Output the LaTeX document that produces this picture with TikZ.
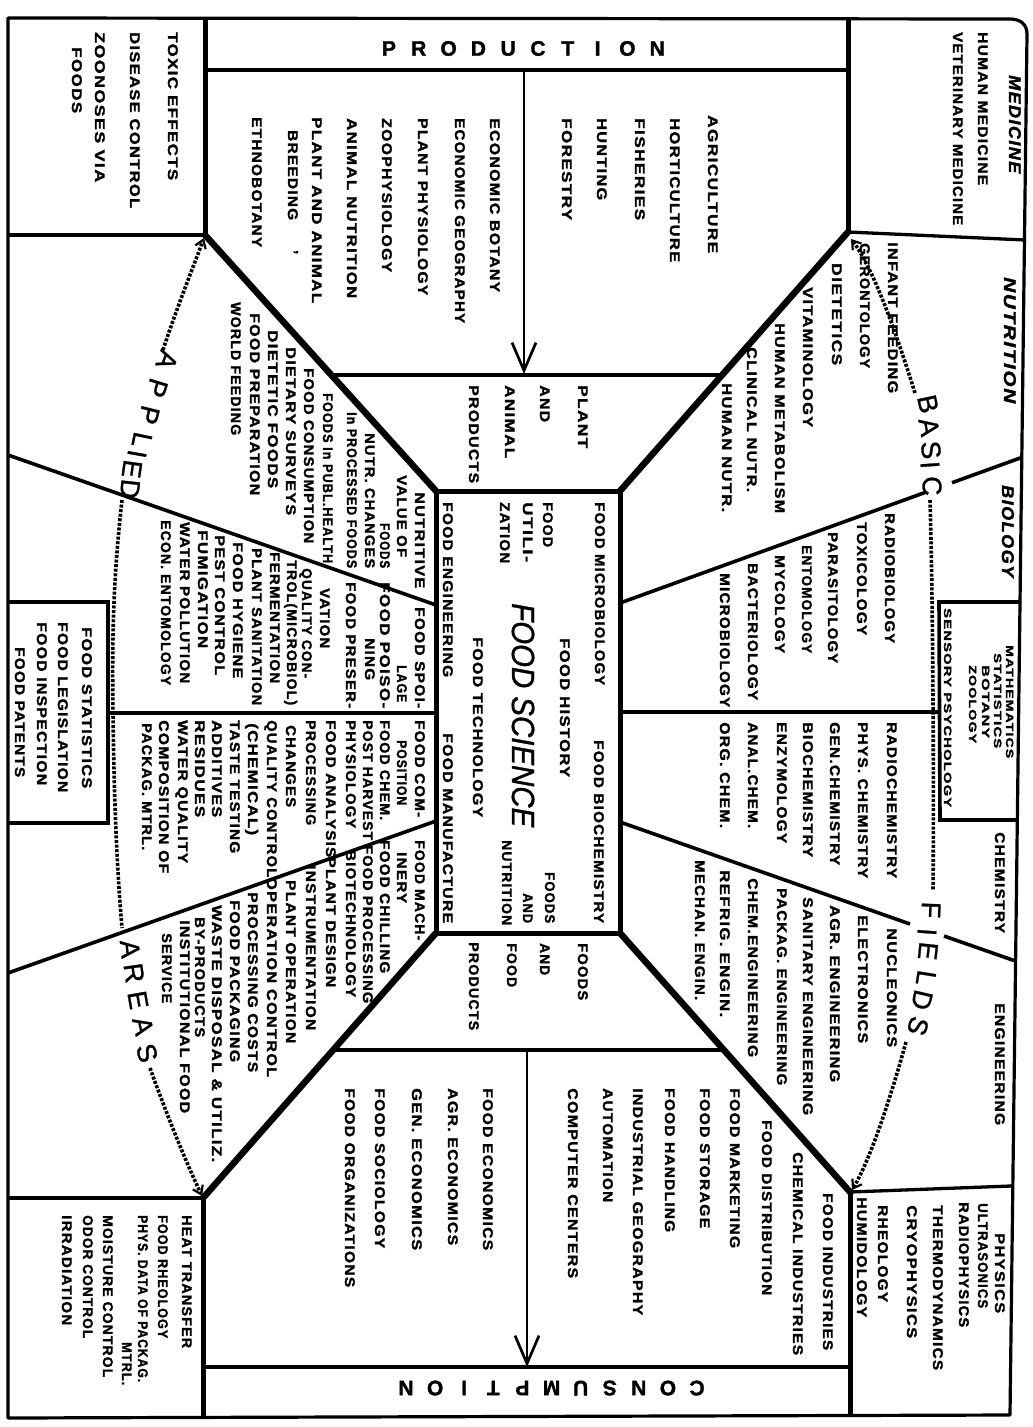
\documentclass[tikz,border=0pt]{standalone}
\usepackage{fontspec}
\usepackage{graphicx}
\usetikzlibrary{arrows.meta}
\newfontfamily\lf{Liberation Sans}[LetterSpace=8, BoldFeatures={FakeBold=1.6}, BoldItalicFeatures={FakeBold=1.8}]
\newfontfamily\hf{Liberation Sans}[FakeBold=1.0]
\newfontfamily\pf{Liberation Sans}[BoldFeatures={FakeBold=1.5}]
\newfontfamily\scfont{Liberation Sans}[ItalicFeatures={FakeBold=1.2}]
\newcounter{tlc}
\newcommand\TL[5][]{\stepcounter{tlc}%
  \node[lbl,#1] (t\arabic{tlc}) at (#2,#3) {\resizebox{\fpeval{#4-(#3)}pt}{\height}{#5}};}
\begin{document}
\begin{tikzpicture}[x=1pt,y=-1pt,
  lbl/.style={rotate=-90, anchor=base west, inner sep=0pt, font=\lf\bfseries\fontsize{14}{16}\selectfont},
  sm/.style={font=\lf\bfseries\fontsize{10.5}{12}\selectfont},
  hd/.style={font=\lf\bfseries\itshape\fontsize{17}{19}\selectfont},
  hdr/.style={font=\lf\bfseries\fontsize{14}{16}\selectfont},
  big/.style={font=\scfont\itshape\fontsize{32}{34}\selectfont},
  arcl/.style={inner sep=0pt, font=\hf\fontsize{27}{27}\selectfont},
  prod/.style={inner sep=0pt, font=\pf\bfseries\fontsize{21}{21}\selectfont},
  frame/.style={line width=3.2pt, line join=round},
  band/.style={line width=3.3pt},
  vthick/.style={line width=5pt},
  diag/.style={line width=6.5pt, line cap=round},
  cbox/.style={line width=5pt},
  mid/.style={line width=3.6pt},
  dots/.style={line width=3.6pt, dash pattern=on 3pt off 1.6pt},
  arr/.style={line width=2.7pt, -{Straight Barb[length=28pt,width=24pt]}},
  darr/.style={-{Straight Barb[length=8pt,width=11pt,line width=2.2pt]}}
]
\useasboundingbox (0,0) rectangle (1033,1427);
\fill[white] (0,0) rectangle (1033,1427);

% outer frame
\draw[frame] (8,18) -- (1010,19) .. controls (1020,19) and (1027,24) .. (1027,34) -- (1010,1415) -- (8,1418) -- cycle;

% production / consumption bands and corner boxes
\draw[band] (205,70) -- (848,70);
\draw[vthick] (205,18) -- (205,235);
\draw[band] (8,235) -- (205,235);
\draw[vthick] (848,18) -- (848,232);
\draw[band] (848,232) -- (1025,240);
\draw[vthick] (203,1198) -- (203,1418);
\draw[band] (8,1198) -- (203,1198);
\draw[vthick] (850,1192) -- (850,1415);
\draw[band] (850,1192) -- (1011,1186);
\draw[band] (203,1367) -- (850,1367);

% trapezoid lines
\draw[band] (331,375) -- (722,375);
\draw[band] (333,1050) -- (724,1050);

% diagonals
\draw[diag] (205,235) -- (436,491);
\draw[diag] (848,232) -- (620,491);
\draw[diag] (436,933) -- (203,1198);
\draw[diag] (620,933) -- (850,1192);

% center box
\draw[cbox] (436,491) rectangle (620,933);

% left partition lines
\draw[mid] (8,455) -- (436,605);
\draw[mid] (8,973) -- (436,821);
\draw[mid] (108,713) -- (436,713);
\draw[mid] (8,602) -- (108,602) -- (108,823) -- (8,823);

% right partition lines
\draw[mid] (620,603) -- (925,492.5);
\draw[mid] (952,482.7) -- (1021,457.7);
\draw[mid] (620,822) -- (910,924);
\draw[mid] (944,936) -- (1014,960.5);
\draw[mid] (620,712) -- (939,712);
\draw[mid] (1021,602) -- (939,602) -- (940,820) -- (1017,820);

% production / consumption arrows
\coordinate (pa) at (524,70);
\coordinate (pb) at (524,374);
\coordinate (ca) at (527,1050);
\coordinate (cb) at (527,1367);
\draw[arr] (pa) -- (pb);
\draw[arr] (ca) -- (cb);

% dotted arcs
\draw[dots,darr] (163,350) .. controls (176,310) and (192,270) .. (204,238);
\draw[dots] (122,500) .. controls (113,580) and (112,640) .. (113,713) .. controls (114,800) and (117,870) .. (122,928);
\draw[dots,darr] (150,1068) .. controls (165,1110) and (185,1160) .. (202,1196);
\draw[dots,darr] (915,393) .. controls (900,345) and (875,270) .. (851,239);
\draw[dots] (930,500) .. controls (933,600) and (934,800) .. (933,890);
\draw[dots,darr] (906,1042) .. controls (890,1100) and (870,1160) .. (852,1190);

% arc words
\node[arcl,rotate=-78] (b1) at (928,404) {B};
\node[arcl,rotate=-80] (b2) at (929,427) {A};
\node[arcl,rotate=-84] (b3) at (931,450) {S};
\node[arcl,rotate=-86] (b4) at (930,465) {I};
\node[arcl,rotate=-88] (b5) at (932,486) {C};
\node[arcl,rotate=-92] (f1) at (931,910) {F};
\node[arcl,rotate=-94] (f2) at (927,932) {I};
\node[arcl,rotate=-96] (f3) at (928,951) {E};
\node[arcl,rotate=-99] (f4) at (926,978) {L};
\node[arcl,rotate=-103] (f5) at (922,1000) {D};
\node[arcl,rotate=-108] (f6) at (918,1026) {S};
\node[arcl,rotate=-110] (a1) at (167,360) {A};
\node[arcl,rotate=-107] (a2) at (157,388) {P};
\node[arcl,rotate=-104] (a3) at (149,415) {P};
\node[arcl,rotate=-102] (a4) at (142,440) {L};
\node[arcl,rotate=-100] (a5) at (137,454) {I};
\node[arcl,rotate=-98] (a6) at (132,469) {E};
\node[arcl,rotate=-96] (a7) at (130,489) {D};
\node[arcl,rotate=-84] (r1) at (130,949) {A};
\node[arcl,rotate=-82] (r2) at (134,973) {R};
\node[arcl,rotate=-80] (r3) at (138,1000) {E};
\node[arcl,rotate=-77] (r4) at (143,1026) {A};
\node[arcl,rotate=-74] (r5) at (147,1053) {S};

% PRODUCTION / CONSUMPTION
\foreach \c [count=\i] in {P,R,O,D,U,C,T,I,O,N}
  \node[prod] (p\i) at ({389+(\i-1)*29.8},48.5) {\c};
\foreach \c [count=\i] in {N,O,I,T,P,M,U,S,N,O,C}
  \node[prod,rotate=180] (c\i) at ({406+(\i-1)*29.1},1388) {\c};

% top-left box
\TL{168}{32}{180}{TOXIC EFFECTS}
\TL{130}{32}{208}{DISEASE CONTROL}
\TL{95}{32}{182}{ZOONOSES VIA}
\TL{72}{47}{113}{FOODS}

% production area
\TL{490}{118}{292}{ECONOMIC BOTANY}
\TL{455}{118}{323}{ECONOMIC GEOGRAPHY}
\TL{418}{118}{295}{PLANT PHYSIOLOGY}
\TL{382}{118}{272}{ZOOPHYSIOLOGY}
\TL{347}{118}{298}{ANIMAL NUTRITION}
\TL{312}{117}{303}{PLANT AND ANIMAL}
\TL{288}{130}{220}{BREEDING}
\TL{296}{250}{254}{,}
\TL{252}{117}{247}{ETHNOBOTANY}
\TL{562}{118}{220}{FORESTRY}
\TL{597}{118}{200}{HUNTING}
\TL{635}{118}{220}{FISHERIES}
\TL{670}{118}{262}{HORTICULTURE}
\TL{708}{115}{253}{AGRICULTURE}

\TL{578}{385}{448}{PLANT}
\TL{540}{385}{422}{AND}
\TL{505}{385}{458}{ANIMAL}
\TL{469}{385}{483}{PRODUCTS}

% applied cell 1
\TL{415}{492}{588}{NUTRITIVE}
\TL{397}{475}{557}{VALUE OF}
\TL{380}{523}{568}{FOODS}
\TL{365}{433}{568}{NUTR. CHANGES}
\TL{347}{412}{568}{In PROCESSED FOODS}
\TL{323}{393}{563}{FOODS In PUBL.HEALTH}
\TL{304}{368}{543}{FOOD CONSUMPTION}
\TL{286}{347}{515}{DIETARY SURVEYS}
\TL{268}{330}{488}{DIETETIC FOODS}
\TL{250}{313}{495}{FOOD PREPARATION}
\TL{231}{302}{435}{WORLD FEEDING}

% applied cell 2
\TL{415}{607}{708}{FOOD SPOI-}
\TL{397}{665}{702}{LAGE}
\TL{380}{582}{708}{FOOD POISO-}
\TL{365}{638}{680}{NING}
\TL{346}{582}{708}{FOOD PRESER-}
\TL{320}{588}{648}{VATION}
\TL{302}{568}{678}{QUALITY CON-}
\TL{287}{560}{705}{TROL(MICROBIOL)}
\TL{270}{552}{683}{FERMENTATION}
\TL{252}{548}{705}{PLANT SANITATION}
\TL{233}{542}{678}{FOOD HYGIENE}
\TL{215}{535}{675}{PEST CONTROL}
\TL{198}{530}{648}{FUMIGATION}
\TL{180}{522}{683}{WATER POLLUTION}
\TL{161}{520}{685}{ECON. ENTOMOLOGY}

% applied cell 3
\TL{415}{720}{817}{FOOD COM-}
\TL{397}{740}{805}{POSITION}
\TL{380}{720}{820}{FOOD CHEM.}
\TL{363}{720}{840}{POST HARVEST}
\TL{346}{720}{828}{PHYSIOLOGY}
\TL{326}{720}{857}{FOOD ANALYSIS}
\TL{306}{720}{825}{PROCESSING}
\TL{286}{725}{807}{CHANGES}
\TL{267}{720}{877}{QUALITY CONTROL}
\TL{248}{723}{835}{(CHEMICAL)}
\TL{230}{720}{853}{TASTE TESTING}
\TL{212}{720}{817}{ADDITIVES}
\TL{195}{720}{817}{RESIDUES}
\TL{178}{720}{863}{WATER QUALITY}
\TL{159}{720}{873}{COMPOSITION OF}
\TL{142}{723}{850}{PACKAG. MTRL.}

% applied cell 4
\TL{415}{840}{940}{FOOD MACH-}
\TL{397}{852}{903}{INERY}
\TL{380}{840}{973}{FOOD CHILLING}
\TL{363}{845}{1003}{FOOD PROCESSING}
\TL{346}{850}{997}{BIOTECHNOLOGY}
\TL{326}{857}{987}{PLANT DESIGN}
\TL{306}{865}{1030}{INSTRUMENTATION}
\TL{286}{880}{1043}{PLANT OPERATION}
\TL{267}{877}{1077}{OPERATION CONTROL}
\TL{248}{892}{1072}{PROCESSING COSTS}
\TL{230}{900}{1062}{FOOD PACKAGING}
\TL{212}{905}{1162}{WASTE DISPOSAL \& UTILIZ.}
\TL{195}{917}{1037}{BY-PRODUCTS}
\TL{180}{920}{1113}{INSTITUTIONAL FOOD}
\TL{162}{933}{1003}{SERVICE}

% food statistics box
\TL{82}{627}{788}{FOOD STATISTICS}
\TL{58}{622}{792}{FOOD LEGISLATION}
\TL{37}{622}{785}{FOOD INSPECTION}
\TL{15}{647}{777}{FOOD PATENTS}

% center box
\TL{595}{502}{685}{FOOD MICROBIOLOGY}
\TL{543}{502}{547}{FOOD}
\TL{523}{502}{562}{UTILI-}
\TL{500}{502}{563}{ZATION}
\TL{443}{502}{677}{FOOD ENGINEERING}
\TL{560}{638}{777}{FOOD HISTORY}
\TL[big]{512}{603}{827}{FOOD SCIENCE}
\TL{473}{637}{817}{FOOD TECHNOLOGY}
\TL{594}{740}{923}{FOOD BIOCHEMISTRY}
\TL{545}{872}{923}{FOODS}
\TL{523}{893}{923}{AND}
\TL{502}{840}{925}{NUTRITION}
\TL{443}{733}{923}{FOOD MANUFACTURE}

% bottom trapezoid
\TL{578}{943}{1000}{FOODS}
\TL{540}{943}{975}{AND}
\TL{507}{943}{987}{FOOD}
\TL{469}{942}{1030}{PRODUCTS}

% consumption area
\TL{483}{1088}{1250}{FOOD ECONOMICS}
\TL{448}{1088}{1245}{AGR. ECONOMICS}
\TL{412}{1088}{1250}{GEN. ECONOMICS}
\TL{375}{1088}{1248}{FOOD SOCIOLOGY}
\TL{345}{1088}{1287}{FOOD ORGANIZATIONS}
\TL{568}{1088}{1278}{COMPUTER CENTERS}
\TL{603}{1088}{1202}{AUTOMATION}
\TL{633}{1088}{1315}{INDUSTRIAL GEOGRAPHY}
\TL{665}{1088}{1232}{FOOD HANDLING}
\TL{700}{1088}{1228}{FOOD STORAGE}
\TL{730}{1088}{1248}{FOOD MARKETING}
\TL{762}{1120}{1295}{FOOD DISTRIBUTION}
\TL{793}{1152}{1355}{CHEMICAL INDUSTRIES}
\TL{823}{1193}{1350}{FOOD INDUSTRIES}

% bottom-right box
\TL[hdr]{995}{1233}{1313}{PHYSICS}
\TL{978}{1203}{1308}{ULTRASONICS}
\TL{959}{1202}{1327}{RADIOPHYSICS}
\TL{933}{1205}{1370}{THERMODYNAMICS}
\TL{907}{1205}{1338}{CRYOPHYSICS}
\TL{878}{1205}{1302}{RHEOLOGY}
\TL{857}{1197}{1317}{HUMIDOLOGY}

% bottom-left box
\TL{182}{1215}{1348}{HEAT TRANSFER}
\TL{158}{1215}{1338}{FOOD RHEOLOGY}
\TL{138}{1215}{1382}{PHYS. DATA OF PACKAG.}
\TL{122}{1342}{1385}{MTRL.}
\TL{103}{1215}{1377}{MOISTURE CONTROL}
\TL{83}{1215}{1338}{ODOR CONTROL}
\TL{62}{1215}{1325}{IRRADIATION}

% medicine
\TL[hd]{1009}{75}{173}{MEDICINE}
\TL{978}{32}{185}{HUMAN MEDICINE}
\TL{953}{32}{225}{VETERINARY MEDICINE}

% nutrition
\TL[hd]{1004}{277}{403}{NUTRITION}
\TL{888}{242}{393}{INFANT FEEDING}
\TL{860}{243}{368}{GERONTOLOGY}
\TL{832}{263}{365}{DIETETICS}
\TL{803}{287}{427}{VITAMINOLOGY}
\TL{775}{323}{513}{HUMAN METABOLISM}
\TL{747}{347}{492}{CLINICAL NUTR.}
\TL{722}{383}{512}{HUMAN NUTR.}

% biology
\TL[hd]{1002}{485}{577}{BIOLOGY}
\TL{885}{513}{643}{RADIOBIOLOGY}
\TL{857}{522}{635}{TOXICOLOGY}
\TL{828}{532}{663}{PARASITOLOGY}
\TL{802}{545}{653}{ENTOMOLOGY}
\TL{775}{555}{653}{MYCOLOGY}
\TL{748}{563}{700}{BACTERIOLOGY}
\TL{720}{573}{707}{MICROBIOLOGY}

% mathematics box
\TL[sm]{1006}{645}{758}{MATHEMATICS}
\TL[sm]{994}{653}{748}{STATISTICS}
\TL[sm]{982}{665}{738}{BOTANY}
\TL[sm]{969}{665}{743}{ZOOLOGY}
\TL[sm]{944}{608}{807}{SENSORY PSYCHOLOGY}

% chemistry
\TL[hdr]{995}{832}{933}{CHEMISTRY}
\TL{887}{722}{878}{RADIOCHEMISTRY}
\TL{858}{722}{878}{PHYS. CHEMISTRY}
\TL{830}{722}{865}{GEN.CHEMISTRY}
\TL{803}{722}{857}{BIOCHEMISTRY}
\TL{777}{722}{843}{ENZYMOLOGY}
\TL{748}{722}{828}{ANAL.CHEM.}
\TL{720}{722}{828}{ORG. CHEM.}

% engineering
\TL[hdr]{995}{1003}{1125}{ENGINEERING}
\TL{887}{928}{1047}{NUCLEONICS}
\TL{858}{915}{1043}{ELECTRONICS}
\TL{830}{905}{1082}{AGR. ENGINEERING}
\TL{803}{897}{1115}{SANITARY ENGINEERING}
\TL{777}{888}{1085}{PACKAG. ENGINEERING}
\TL{748}{878}{1057}{CHEM.ENGINEERING}
\TL{720}{870}{1017}{REFRIG. ENGIN.}
\TL{695}{860}{1000}{MECHAN. ENGIN.}
\end{tikzpicture}
\end{document}
